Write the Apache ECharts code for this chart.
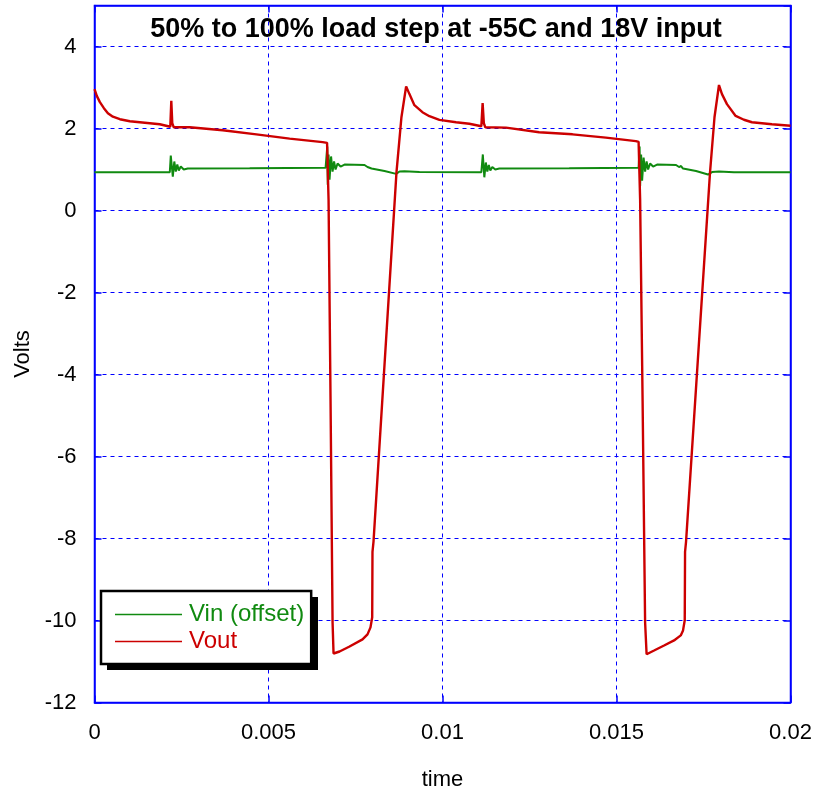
<!DOCTYPE html>
<html>
<head>
<meta charset="utf-8">
<title>Load step transient</title>
<script src="https://cdn.jsdelivr.net/npm/echarts@6/dist/echarts.min.js"></script>
<style>
  html, body { margin: 0; padding: 0; background: #ffffff; }
  #chart { width: 814px; height: 791px; }
</style>
</head>
<body>
<div id="chart"></div>
<script>
// Output voltage trace (seconds, volts)
const voutTime = [
  0, 0.000069, 0.000155, 0.000270, 0.000385, 0.000528, 0.000729, 0.001016, 0.001446, 0.001876,
  0.002178, 0.002207, 0.002235, 0.002278, 0.002737, 0.003684, 0.004651, 0.005607, 0.006554, 0.006683,
  0.006726, 0.006783, 0.006841, 0.006869, 0.007042, 0.007329, 0.007702, 0.007845, 0.007931, 0.007980,
  0.007988, 0.008017, 0.008677, 0.008820, 0.008955, 0.009050, 0.009193, 0.009423, 0.009624, 0.009911,
  0.010390, 0.010771, 0.011116, 0.011153, 0.011188, 0.011231, 0.011825, 0.012777, 0.013736, 0.014694,
  0.015555, 0.015635, 0.015679, 0.015750, 0.015822, 0.015865, 0.016080, 0.016367, 0.016654, 0.016846,
  0.016912, 0.016961, 0.016970, 0.016998, 0.017687, 0.017816, 0.017945, 0.018031, 0.018174, 0.018424,
  0.018662, 0.018892, 0.019466, 0.020000
];
const voutVolts = [
  2.962, 2.790, 2.643, 2.496, 2.373, 2.287, 2.226, 2.177, 2.140, 2.103,
  2.042, 2.675, 2.128, 2.029, 2.029, 1.956, 1.857, 1.752, 1.669, 1.649,
  0.263, -4.645, -10.044, -10.805, -10.756, -10.633, -10.461, -10.339, -10.167, -9.922,
  -8.326, -8.081, 0.925, 2.275, 3.028, 2.839, 2.569, 2.398, 2.299, 2.209,
  2.152, 2.115, 2.054, 2.618, 2.128, 2.029, 2.022, 1.907, 1.858, 1.777,
  1.693, 1.674, 0.263, -4.645, -10.044, -10.822, -10.731, -10.609, -10.486, -10.363,
  -10.241, -9.995, -8.326, -8.081, 0.925, 2.275, 3.060, 2.839, 2.594, 2.307,
  2.213, 2.152, 2.103, 2.066
];

// Input voltage trace, offset for display (seconds, volts)
const vinTime = [
  0, 0.002164, 0.002192, 0.002250, 0.002293, 0.002336, 0.002379, 0.002422, 0.002479, 0.002565,
  0.002680, 0.004459, 0.006640, 0.006689, 0.006703, 0.006726, 0.006754, 0.006798, 0.006841, 0.006884,
  0.006927, 0.006985, 0.007071, 0.007185, 0.007759, 0.007845, 0.007902, 0.007960, 0.008333, 0.008668,
  0.008765, 0.008907, 0.009337, 0.011116, 0.011159, 0.011202, 0.011245, 0.011288, 0.011331, 0.011374,
  0.011431, 0.011517, 0.011632, 0.013641, 0.015635, 0.015664, 0.015679, 0.015707, 0.015736, 0.015779,
  0.015822, 0.015865, 0.015908, 0.015965, 0.016051, 0.016166, 0.016711, 0.016797, 0.016855, 0.016912,
  0.017285, 0.017629, 0.017744, 0.017945, 0.018376, 0.020000
];
const vinVolts = [
  0.933, 0.933, 1.342, 0.827, 1.195, 0.950, 1.121, 0.974, 1.072, 0.999,
  1.023, 1.028, 1.040, 1.563, 0.631, 1.367, 0.753, 1.318, 0.950, 1.195,
  0.999, 1.146, 1.072, 1.121, 1.109, 1.060, 1.085, 1.023, 0.962, 0.893,
  0.950, 0.957, 0.937, 0.933, 1.367, 0.810, 1.171, 0.950, 1.109, 0.974,
  1.060, 0.999, 1.023, 1.028, 1.040, 1.563, 0.594, 1.367, 0.729, 1.293,
  0.950, 1.195, 0.999, 1.146, 1.072, 1.121, 1.109, 1.060, 1.085, 1.023,
  0.962, 0.876, 0.937, 0.950, 0.933, 0.933
];

const seriesNames = ['Vin (offset)', 'Vout'];
const chartTitle = '50% to 100% load step at -55C and 18V input';
const xName = 'time';
const yName = 'Volts';

const pairs = (xs, ys) => xs.map((x, i) => [x, ys[i]]);

const BLUE = '#0000ff';
const RED = '#cc0000';
const GREEN = '#108a10';
const FONT = "'Liberation Sans', Arial, sans-serif";

const gridDash = { color: BLUE, width: 1, opacity: 1, type: [4, 4] };
const frameLine = { show: true, onZero: false, lineStyle: { color: BLUE, width: 1.5 } };
const innerTick = { show: true, inside: true, length: 7, lineStyle: { color: BLUE, width: 1.5 } };

const chart = echarts.init(document.getElementById('chart'), null, { renderer: 'canvas' });

chart.setOption({
  backgroundColor: '#ffffff',
  animation: false,
  title: {
    text: chartTitle,
    left: 436,
    top: 16,
    padding: 0,
    textAlign: 'center',
    textStyle: { fontFamily: FONT, fontWeight: 'bold', fontSize: 27, color: '#000000' }
  },
  // plot box sized so every grid line lands on a half pixel
  grid: {
    left: 94.5,
    right: 23.5,
    top: 5.5,
    bottom: 88.5,
    show: true,
    borderColor: BLUE,
    borderWidth: 1.5,
    containLabel: false,
    outerBoundsMode: 'none'
  },
  // solid drop shadow behind the legend box
  graphic: [{
    type: 'rect',
    left: 107,
    top: 597,
    shape: { width: 211, height: 73 },
    style: { fill: '#000000' },
    z: 9
  }],
  legend: {
    orient: 'vertical',
    left: 101,
    top: 591,
    data: [
      { name: seriesNames[0], textStyle: { color: GREEN } },
      { name: seriesNames[1], textStyle: { color: RED } }
    ],
    icon: 'rect',
    itemWidth: 67,
    itemHeight: 1.3,
    itemGap: 0,
    padding: [10, 7, 9, 14],
    backgroundColor: '#ffffff',
    borderColor: '#000000',
    borderWidth: 2.5,
    z: 10,
    textStyle: { fontFamily: FONT, fontSize: 24, lineHeight: 27, padding: [0, 0, 0, 2] },
    selectedMode: false
  },
  xAxis: [{
    type: 'value',
    min: 0,
    max: 0.02,
    interval: 0.005,
    name: xName,
    nameLocation: 'middle',
    nameGap: 66,
    nameTextStyle: { fontFamily: FONT, fontSize: 22, color: '#000000' },
    axisLine: frameLine,
    axisTick: innerTick,
    axisLabel: { fontFamily: FONT, fontSize: 22, color: '#000000', margin: 19 },
    splitLine: { show: true, lineStyle: gridDash }
  }, {
    type: 'value',
    position: 'top',
    min: 0,
    max: 0.02,
    interval: 0.005,
    axisLine: frameLine,
    axisTick: innerTick,
    axisLabel: { show: false },
    splitLine: { show: false }
  }],
  yAxis: [{
    type: 'value',
    min: -12,
    max: 5,
    interval: 2,
    name: yName,
    nameLocation: 'middle',
    nameGap: 60,
    nameTextStyle: { fontFamily: FONT, fontSize: 22, color: '#000000' },
    axisLine: frameLine,
    axisTick: innerTick,
    axisLabel: { fontFamily: FONT, fontSize: 22, color: '#000000', margin: 18, showMaxLabel: false },
    splitLine: { show: true, lineStyle: gridDash }
  }, {
    type: 'value',
    position: 'right',
    min: -12,
    max: 5,
    interval: 2,
    axisLine: frameLine,
    axisTick: innerTick,
    axisLabel: { show: false },
    splitLine: { show: false }
  }],
  series: [{
    name: seriesNames[0],
    type: 'line',
    data: pairs(vinTime, vinVolts),
    symbol: 'none',
    color: GREEN,
    lineStyle: { color: GREEN, width: 2 },
    z: 3
  }, {
    name: seriesNames[1],
    type: 'line',
    data: pairs(voutTime, voutVolts),
    symbol: 'none',
    color: RED,
    lineStyle: { color: RED, width: 2.4 },
    z: 4
  }]
});
</script>
</body>
</html>
